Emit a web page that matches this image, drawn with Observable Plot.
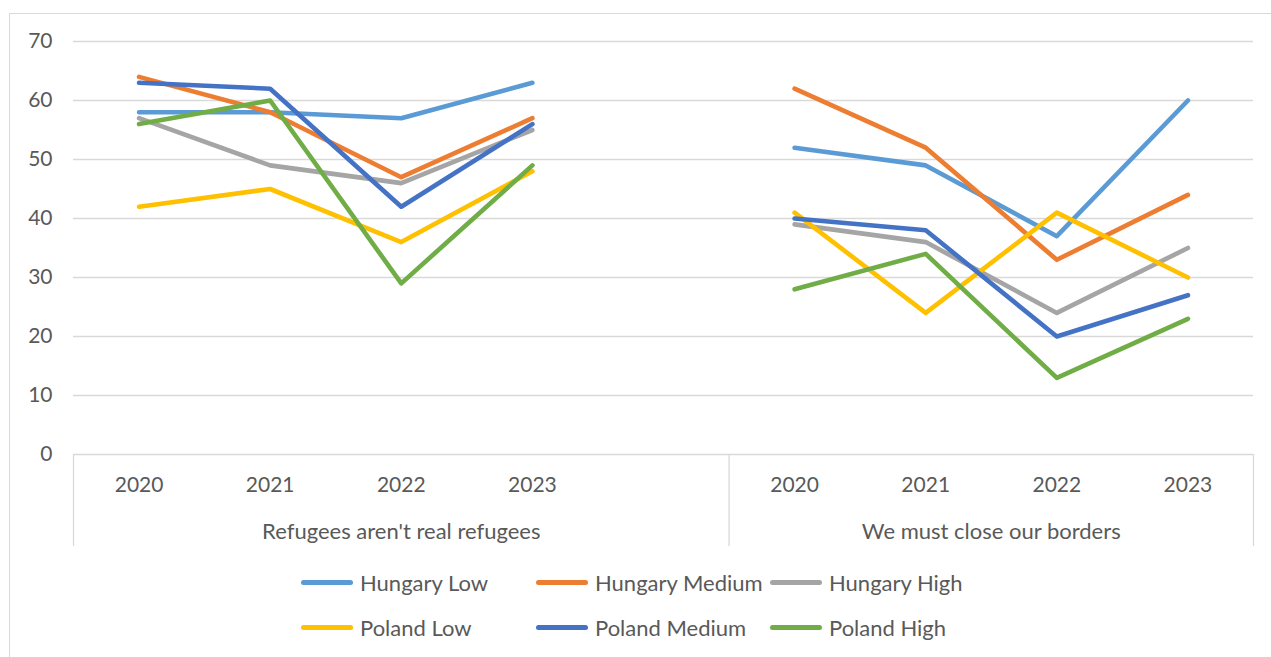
<!DOCTYPE html>
<html>
<head>
<meta charset="utf-8">
<script src="https://cdn.jsdelivr.net/npm/d3@7"></script>
<script src="https://cdn.jsdelivr.net/npm/@observablehq/plot@0.6"></script>
<style>
  html, body { margin: 0; padding: 0; background: #fff; }
  body { width: 1271px; height: 657px; position: relative; overflow: hidden; font-family: Lato, "Open Sans", sans-serif; }
  #frame { position: absolute; left: 9px; top: 13px; width: 1400px; height: 800px; border: 1px solid #d9d9d9; box-sizing: border-box; }
  #chart { position: absolute; left: 0; top: 0; }
  #legend { position: absolute; left: 0; top: 0; width: 1271px; height: 657px; pointer-events: none; }
  .item { position: absolute; display: flex; align-items: center; height: 30px; color: #595959; font-size: 22px; white-space: nowrap; }
  .swatch { width: 52px; height: 5px; border-radius: 3px; margin-right: 7px; }
</style>
</head>
<body>
<div id="frame"></div>
<div id="chart"></div>
<div id="legend"></div>
<script>
// ---- data ----
const years = ["2020", "2021", "2022", "2023"];
const groups = ["Refugees aren't real refugees", "We must close our borders"];
const series = ["Hungary Low", "Hungary Medium", "Hungary High", "Poland Low", "Poland Medium", "Poland High"];
const colors = ["#5B9BD5", "#ED7D31", "#A5A5A5", "#FFC000", "#4472C4", "#70AD47"];
const yTicks = [0, 10, 20, 30, 40, 50, 60, 70];

// Refugees aren't real refugees
const refugeesValues = {
  "Hungary Low":    [58, 58, 57, 63],
  "Hungary Medium": [64, 58, 47, 57],
  "Hungary High":   [57, 49, 46, 55],
  "Poland Low":     [42, 45, 36, 48],
  "Poland Medium":  [63, 62, 42, 56],
  "Poland High":    [56, 60, 29, 49]
};
// We must close our borders
const bordersValues = {
  "Hungary Low":    [52, 49, 37, 60],
  "Hungary Medium": [62, 52, 33, 44],
  "Hungary High":   [39, 36, 24, 35],
  "Poland Low":     [41, 24, 41, 30],
  "Poland Medium":  [40, 38, 20, 27],
  "Poland High":    [28, 34, 13, 23]
};

// category slots: group 0 has 4 years + 1 empty slot, group 1 has 4 years
const groupSlots = [[0, 1, 2, 3], [5, 6, 7, 8]];
const groupBounds = [[0, 5], [5, 9]];
const groupValues = [refugeesValues, bordersValues];

const rows = [];
groups.forEach((g, gi) => {
  series.forEach(s => {
    groupValues[gi][s].forEach((v, yi) => {
      rows.push({group: g, series: s, year: years[yi], pos: groupSlots[gi][yi] + 0.5, value: v});
    });
  });
});
const yearLabels = [];
groups.forEach((g, gi) => years.forEach((y, yi) => yearLabels.push({label: y, pos: groupSlots[gi][yi] + 0.5})));
const groupLabels = groups.map((g, gi) => ({label: g, pos: (groupBounds[gi][0] + groupBounds[gi][1]) / 2}));
const separators = [0, 5, 9];

const textColor = "#595959";
const gridColor = "#d9d9d9";
const numSize = 21;
const labelSize = 22;

const plot = Plot.plot({
  width: 1271,
  height: 560,
  marginLeft: 73,
  marginRight: 18,
  marginTop: 41,
  marginBottom: 106,
  style: {fontFamily: "Lato, 'Open Sans', sans-serif", background: "transparent", overflow: "visible"},
  x: {domain: [0, 9], axis: null},
  y: {domain: [0, 70], axis: null},
  color: {domain: series, range: colors},
  marks: [
    Plot.gridY(yTicks.filter(t => t > 0), {stroke: gridColor, strokeOpacity: 1, strokeWidth: 1.3}),
    Plot.ruleY([0], {stroke: gridColor, strokeWidth: 1.3}),
    Plot.ruleX(separators, {stroke: gridColor, strokeWidth: 1.3, insetTop: 413, insetBottom: -92}),
    Plot.axisY({ticks: yTicks, tickSize: 0, tickPadding: 21, fontSize: numSize, color: textColor, label: null}),
    Plot.text(yearLabels, {x: "pos", text: "label", frameAnchor: "bottom", lineAnchor: "middle", dy: 31, fontSize: numSize, fill: textColor}),
    Plot.text(groupLabels, {x: "pos", text: "label", frameAnchor: "bottom", lineAnchor: "middle", dy: 77, fontSize: labelSize, fill: textColor}),
    Plot.line(rows, {
      x: "pos", y: "value", z: d => d.series + "|" + d.group, stroke: "series",
      strokeWidth: 4.6, strokeLinecap: "round", strokeLinejoin: "round"
    })
  ]
});
document.getElementById("chart").appendChild(plot);

// legend
const legend = document.getElementById("legend");
const colX = [301, 536, 770];
const rowY = [582, 627];
series.forEach((s, i) => {
  const item = document.createElement("div");
  item.className = "item";
  item.style.left = colX[i % 3] + "px";
  item.style.top = (rowY[Math.floor(i / 3)] - 15) + "px";
  const sw = document.createElement("span");
  sw.className = "swatch";
  sw.style.background = colors[i];
  const tx = document.createElement("span");
  tx.textContent = s;
  item.appendChild(sw);
  item.appendChild(tx);
  legend.appendChild(item);
});
</script>
</body>
</html>
